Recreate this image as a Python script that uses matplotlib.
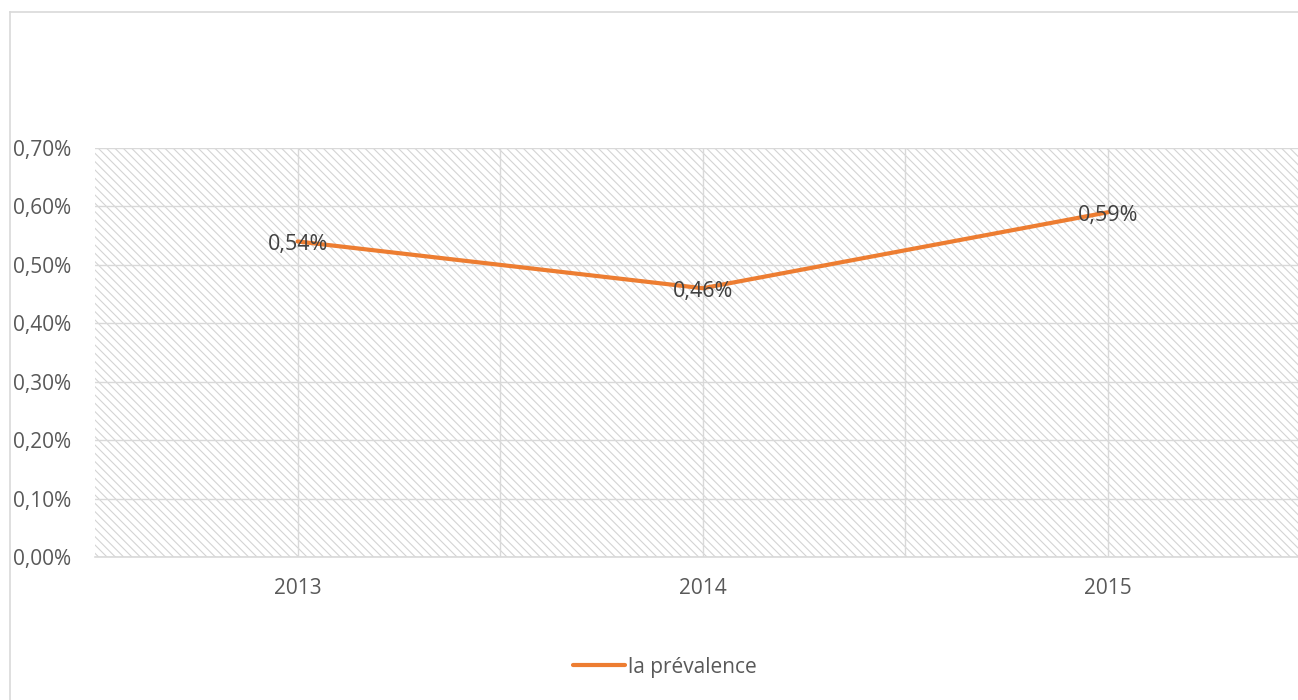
import matplotlib
matplotlib.use("Agg")
import matplotlib.pyplot as plt
from matplotlib.patches import Rectangle
from matplotlib.lines import Line2D

# données
annees = ["2013", "2014", "2015"]
prevalence = [0.54, 0.46, 0.59]  # en %
graduations = [0.0, 0.1, 0.2, 0.3, 0.4, 0.5, 0.6, 0.7]

gris_texte = "#595959"
gris_ligne = "#d9d9d9"
orange = "#ed7d31"

plt.rcParams["font.family"] = ["Open Sans", "DejaVu Sans"]
plt.rcParams["hatch.linewidth"] = 0.8

W, H = 1298, 700
fig = plt.figure(figsize=(W / 100, H / 100), dpi=100)

# zone de tracé (elle dépasse à droite comme sur l'original)
gauche, droite, haut, bas = 95, 1310.5, 148, 557
ax = fig.add_axes([gauche / W, 1 - bas / H, (droite - gauche) / W, (bas - haut) / H])

# fond hachuré
ax.add_patch(Rectangle((0, 0), 1, 1, transform=ax.transAxes, facecolor="white",
                       edgecolor="#d4d4d4", hatch="\\\\\\\\", lw=0, zorder=0))

x = list(range(len(annees)))
ax.plot(x, prevalence, color=orange, lw=3, solid_capstyle="round", zorder=3,
        label="la prévalence")

for xi, v in zip(x, prevalence):
    ax.annotate(f"{v:.2f}%".replace(".", ","), (xi, v), xytext=(0, -2),
                textcoords="offset points", ha="center", va="center",
                fontsize=15.5, color="#404040", zorder=4)

ax.set_xlim(-0.5, len(annees) - 0.5)
ax.set_ylim(0, 0.7)
ax.set_yticks(graduations)
ax.set_yticklabels([f"{t:.2f}%".replace(".", ",") for t in graduations])
ax.set_xticks(x)
ax.set_xticklabels(annees)
ax.set_xticks([0.5, 1.5], minor=True)

ax.tick_params(axis="both", length=0, labelsize=15, colors=gris_texte)
ax.tick_params(axis="y", pad=17)
ax.tick_params(axis="x", pad=15)
ax.tick_params(which="minor", length=0)

ax.grid(True, which="both", color=gris_ligne, lw=1, zorder=1)
ax.set_axisbelow(False)
for s in ["left", "right", "top"]:
    ax.spines[s].set_visible(False)
ax.spines["bottom"].set_color(gris_ligne)
ax.spines["bottom"].set_linewidth(1.2)

# cadre extérieur du graphique
fig.add_artist(Line2D([10 / W, 10 / W], [0, 1 - 12 / H], color=gris_ligne, lw=1.2))
fig.add_artist(Line2D([10 / W, 1], [1 - 12 / H, 1 - 12 / H], color=gris_ligne, lw=1.2))

leg = fig.legend(loc="center", bbox_to_anchor=(665 / W, 1 - 667 / H), frameon=False,
                 fontsize=15, handlelength=2.5, handletextpad=0.15)
for t in leg.get_texts():
    t.set_color(gris_texte)

fig.savefig("out.png", dpi=100)
